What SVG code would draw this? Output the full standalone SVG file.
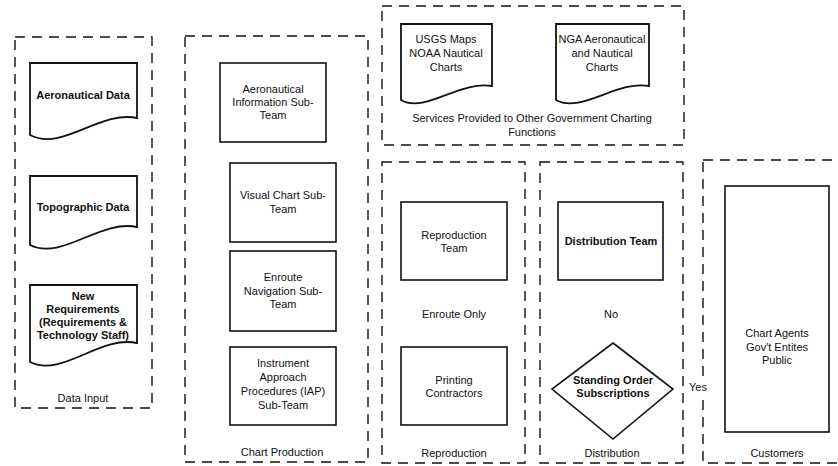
<svg xmlns="http://www.w3.org/2000/svg" width="838" height="466" viewBox="0 0 838 466">
<style>
.lane{fill:none;stroke:#111;stroke-width:1.4;stroke-dasharray:10 7}
.box{fill:#fff;stroke:#111;stroke-width:1.6}
.doc{fill:#fff;stroke:#111;stroke-width:1.8}
text{font-family:"Liberation Sans",Arial,sans-serif;font-size:11px;fill:#111;text-anchor:middle}
.b{font-weight:bold}
</style>
<rect width="838" height="466" fill="#fff"/>
<g id="lanes">
<g id="lane-data-input"><rect class="lane" x="15" y="37" width="137" height="371"/><text x="83" y="402">Data Input</text></g>
<g id="lane-chart-production"><rect class="lane" x="185" y="36" width="183" height="426"/><text x="282" y="456">Chart Production</text></g>
<g id="lane-services"><rect class="lane" x="382" y="6" width="302" height="139"/><text x="532" y="122">Services Provided to Other Government Charting</text><text x="532" y="136">Functions</text></g>
<g id="lane-reproduction"><rect class="lane" x="382" y="162" width="143" height="301"/><text x="454" y="457">Reproduction</text></g>
<g id="lane-distribution"><rect class="lane" x="540" y="162" width="143" height="301"/><text x="612" y="457">Distribution</text></g>
<g id="lane-customers"><rect class="lane" x="703" y="160" width="145" height="303"/><text x="777" y="457">Customers</text></g>
</g>
<g id="connectors"></g>
<g id="aeronautical-data"><path class="doc" d="M30,63 H137 V118 C100,110 62,152 30,135 Z"/><text class="b" x="83" y="99">Aeronautical Data</text></g>
<g id="topographic-data"><path class="doc" d="M30,176 H137 V227 C100,219 62,261 30,245 Z"/><text class="b" x="83" y="211">Topographic Data</text></g>
<g id="new-requirements"><path class="doc" d="M30,285 H137 V343 C100,335 62,378 30,362 Z"/><text class="b" x="83" y="300">New</text><text class="b" x="83" y="313">Requirements</text><text class="b" x="83" y="326">(Requirements &amp;</text><text class="b" x="83" y="339">Technology Staff)</text></g>
<g id="aero-info"><rect class="box" x="220" y="63" width="106" height="79"/><text x="273" y="93">Aeronautical</text><text x="273" y="106">Information Sub-</text><text x="273" y="119">Team</text></g>
<g id="visual-chart"><rect class="box" x="230" y="163" width="106" height="79"/><text x="283" y="198.5">Visual Chart Sub-</text><text x="283" y="212.5">Team</text></g>
<g id="enroute-nav"><rect class="box" x="230" y="251" width="106" height="80"/><text x="283" y="281">Enroute</text><text x="283" y="295">Navigation Sub-</text><text x="283" y="308">Team</text></g>
<g id="iap"><rect class="box" x="230" y="347" width="106" height="78"/><text x="283" y="367">Instrument</text><text x="283" y="381">Approach</text><text x="283" y="395">Procedures (IAP)</text><text x="283" y="409">Sub-Team</text></g>
<g id="usgs"><path class="doc" d="M401,24 H492 V86 C460,80 425,114 401,100 Z"/><text x="446" y="43">USGS Maps</text><text x="446" y="57">NOAA Nautical</text><text x="446" y="71">Charts</text></g>
<g id="nga"><path class="doc" d="M556,24 H649 V86 C617,80 581,114 556,100 Z"/><text x="602" y="43">NGA Aeronautical</text><text x="602" y="57">and Nautical</text><text x="602" y="71">Charts</text></g>
<g id="reproduction-team"><rect class="box" x="401" y="202" width="106" height="78"/><text x="454" y="239">Reproduction</text><text x="454" y="252">Team</text></g>
<g id="enroute-only"><text x="454" y="318">Enroute Only</text></g>
<g id="printing-contractors"><rect class="box" x="401" y="347" width="106" height="78"/><text x="454" y="384">Printing</text><text x="454" y="397">Contractors</text></g>
<g id="distribution-team"><rect class="box" x="558" y="202" width="105" height="78"/><text class="b" x="611" y="245">Distribution Team</text></g>
<g id="no-label"><text x="611" y="318">No</text></g>
<g id="standing-order"><path class="box" d="M613,343 L673,389 L613,439 L552,389 Z"/><text class="b" x="613" y="384">Standing Order</text><text class="b" x="613" y="397">Subscriptions</text></g>
<g id="yes-label"><rect x="689" y="380" width="20" height="13" fill="#fff"/><text x="698" y="391">Yes</text></g>
<g id="chart-agents"><rect class="box" x="725" y="186" width="104" height="246"/><text x="777" y="337">Chart Agents</text><text x="777" y="351">Gov't Entites</text><text x="777" y="364">Public</text></g>
</svg>
